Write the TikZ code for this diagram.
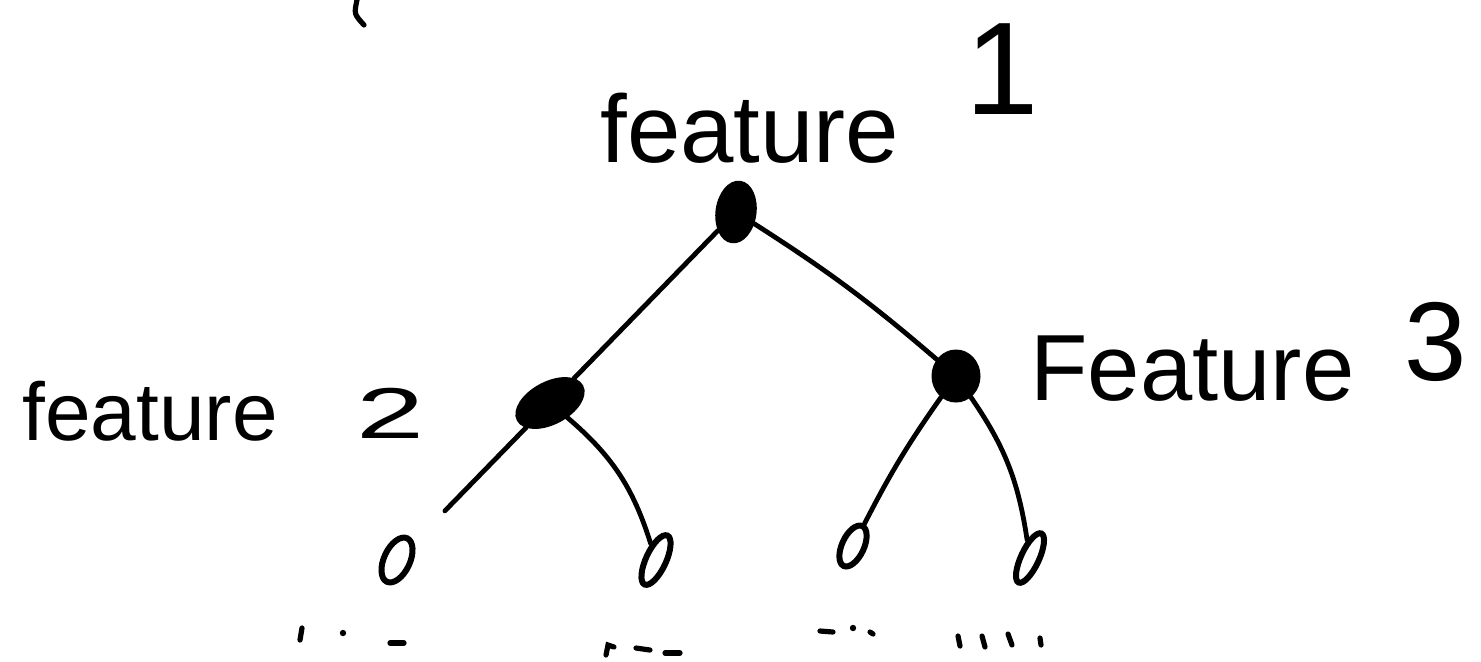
\documentclass[tikz,border=0pt]{standalone}
\usepackage{fontspec}
\setmainfont{Liberation Sans}
\usetikzlibrary{shapes.geometric}
\begin{document}
\begin{tikzpicture}[x=0.5pt,y=-0.5pt,
  blob/.style={ellipse, draw, fill=black, line width=1.5pt, inner sep=0pt},
  leaf/.style={ellipse, draw, line width=3pt, inner sep=0pt},
  edge/.style={line width=2.4pt, line cap=round},
  lbl/.style={anchor=base west, inner sep=0pt},
  scribble/.style={line width=2.6pt, line cap=round}]
\useasboundingbox (0,0) rectangle (1481,661);
% nodes
\node[blob, minimum width=19pt, minimum height=30pt, rotate=-8] (root) at (736,212) {};
\node[blob, minimum width=36pt, minimum height=20pt, rotate=28] (n2) at (550,403) {};
\node[blob, minimum width=23pt, minimum height=25pt] (n3) at (956,376) {};
\node[leaf, minimum width=13pt, minimum height=24pt, rotate=-25] (l1) at (397,560) {};
\node[leaf, minimum width=10pt, minimum height=27pt, rotate=-25] (l2) at (656,560) {};
\node[leaf, minimum width=11pt, minimum height=22pt, rotate=-25] (l3) at (853,546) {};
\node[leaf, minimum width=9pt, minimum height=27pt, rotate=-25] (l4) at (1030,558) {};
% edges
\draw[edge] (root) -- (n2);
\draw[edge] (root) to[bend left=4] (n3);
\draw[edge, shorten >=22pt] (n2) -- (l1);
\draw[edge] (n2) to[bend left=16] (l2);
\draw[edge] (n3) to[bend right=4] (l3);
\draw[edge] (n3) to[bend left=13] (l4);
% labels
\node[lbl, font=\fontsize{48}{54}\selectfont] (t1) at (600,162) {feature \hspace{20pt}\raisebox{24pt}{\fontsize{66}{70}\selectfont 1}};
\node[lbl, font=\fontsize{41}{48}\selectfont] (t2) at (22,440) {feature \hspace{28pt}\raisebox{1pt}{\fontsize{36}{44}\selectfont\scalebox{1.7}[1]{2}}};
\node[lbl, font=\fontsize{47}{54}\selectfont] (t3) at (1030,400) {Feature \hspace{12pt}\raisebox{10pt}{\fontsize{56}{62}\selectfont 3}};
% stray mark at top
\draw[scribble] (357,0) .. controls (354,14) .. (364,25);
% trailing dots
\draw[scribble] (302,628) -- (300,640);
\fill (343,633) circle (1.6pt);
\draw[scribble] (390,643) -- (404,643);
\draw[scribble] (606,655) -- (608,645) -- (614,647);
\draw[scribble] (636,648) -- (650,650);
\draw[scribble] (665,653) -- (680,653);
\draw[scribble] (820,631) -- (833,632);
\fill (853,628) circle (1.6pt);
\draw[scribble] (870,632) -- (873,634);
\draw[scribble] (958,636) -- (960,646);
\draw[scribble] (982,636) -- (985,647);
\draw[scribble] (1008,634) -- (1012,645);
\draw[scribble] (1040,638) -- (1041,645);
\end{tikzpicture}
\end{document}
